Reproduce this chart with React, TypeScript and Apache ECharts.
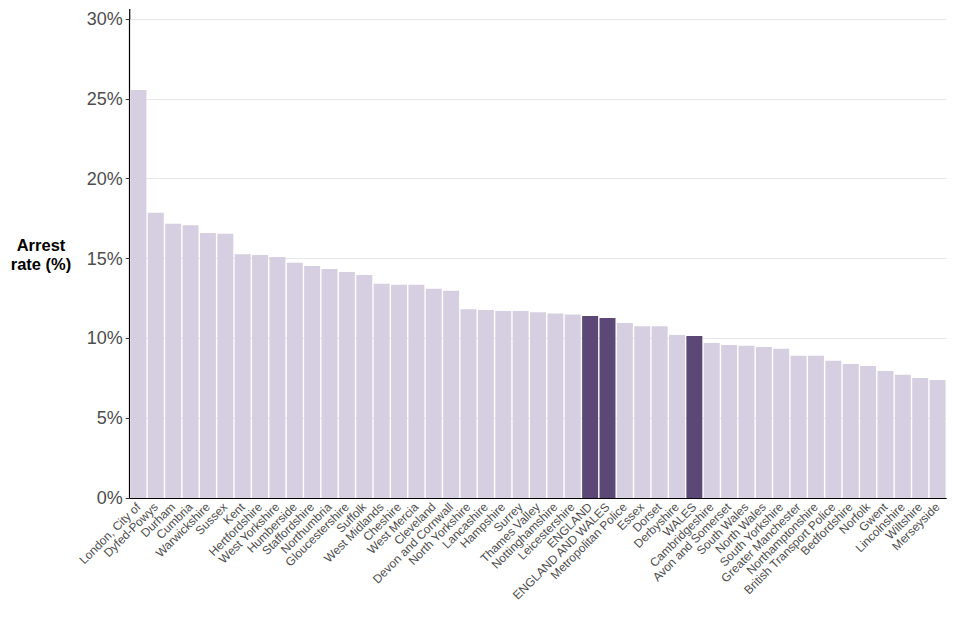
import React, { useEffect, useRef } from "react";
import * as echarts from "echarts";

const categories = [
  "London, City of", "Dyfed-Powys", "Durham", "Cumbria", "Warwickshire", "Sussex", "Kent",
  "Hertfordshire", "West Yorkshire", "Humberside", "Staffordshire", "Northumbria",
  "Gloucestershire", "Suffolk", "West Midlands", "Cheshire", "West Mercia", "Cleveland",
  "Devon and Cornwall", "North Yorkshire", "Lancashire", "Hampshire", "Surrey", "Thames Valley",
  "Nottinghamshire", "Leicestershire", "ENGLAND", "ENGLAND AND WALES", "Metropolitan Police",
  "Essex", "Dorset", "Derbyshire", "WALES", "Cambridgeshire", "Avon and Somerset", "South Wales",
  "North Wales", "South Yorkshire", "Greater Manchester", "Northamptonshire",
  "British Transport Police", "Bedfordshire", "Norfolk", "Gwent", "Lincolnshire", "Wiltshire",
  "Merseyside",
];

const arrestRates = [
  25.55, 17.87, 17.18, 17.08, 16.59, 16.55, 15.26, 15.22, 15.09, 14.73, 14.53, 14.34,
  14.15, 13.96, 13.42, 13.36, 13.36, 13.11, 12.98, 11.82, 11.77, 11.71, 11.71, 11.63,
  11.56, 11.5, 11.4, 11.27, 10.96, 10.75, 10.75, 10.21, 10.14, 9.71, 9.58, 9.54,
  9.46, 9.35, 8.91, 8.91, 8.6, 8.39, 8.27, 7.95, 7.72, 7.51, 7.39,
];

const highlighted = ["ENGLAND", "ENGLAND AND WALES", "WALES"];

const yTicks = [0, 5, 10, 15, 20, 25, 30];

const LIGHT = "#d6cfe2";
const DARK = "#5c4877";
const FONT = "'Liberation Sans', Arial, sans-serif";

export default function App() {
  const ref = useRef<HTMLDivElement>(null);

  useEffect(() => {
    if (!ref.current) return;
    const chart = echarts.init(ref.current, undefined, { renderer: "svg" });
    const step = 820 / 47.2;
    const gridLeft = 128 + 0.1 * step;
    const gridRight = 960 - (948 - 0.1 * step);
    chart.setOption({
      animation: false,
      textStyle: { fontFamily: FONT },
      grid: { left: gridLeft, right: gridRight, top: 19, bottom: 142, containLabel: false },
      xAxis: {
        type: "category",
        data: categories,
        axisLine: { lineStyle: { color: "#000", width: 1.2 } },
        axisTick: { alignWithLabel: true, length: 4, lineStyle: { color: "#333" } },
        axisLabel: {
          rotate: 45,
          interval: 0,
          fontSize: 12,
          color: "#4d4d4d",
          fontFamily: FONT,
          margin: 7,
        },
      },
      yAxis: {
        type: "value",
        min: yTicks[0],
        max: yTicks[yTicks.length - 1],
        interval: 5,
        axisLine: { show: true, lineStyle: { color: "#000", width: 1.2 } },
        axisTick: { show: true, length: 4, lineStyle: { color: "#333" } },
        axisLabel: {
          formatter: (v: number) => `${v}%`,
          fontSize: 18,
          color: "#4d4d4d",
          fontFamily: FONT,
          margin: 7,
        },
        splitLine: { show: true, lineStyle: { color: "#e6e6e6", width: 1 } },
      },
      series: [
        {
          type: "bar",
          barCategoryGap: "8%",
          data: arrestRates.map((v, i) => ({
            value: v,
            itemStyle: { color: highlighted.includes(categories[i]) ? DARK : LIGHT },
          })),
        },
      ],
      graphic: [
        {
          type: "line",
          shape: { x1: gridLeft, y1: 9, x2: gridLeft, y2: 19 },
          style: { stroke: "#000", lineWidth: 1.2 },
        },
        {
          type: "text",
          x: 41,
          y: 254,
          style: {
            text: "Arrest\nrate (%)",
            fontSize: 16.5,
            fontWeight: "bold",
            fill: "#000",
            align: "center",
            verticalAlign: "middle",
            lineHeight: 19,
            fontFamily: FONT,
          },
        },
      ],
    });
    return () => chart.dispose();
  }, []);

  return (
    <div
      ref={ref}
      style={{ width: 960, height: 640, position: "absolute", left: 0, top: 0 }}
    />
  );
}
